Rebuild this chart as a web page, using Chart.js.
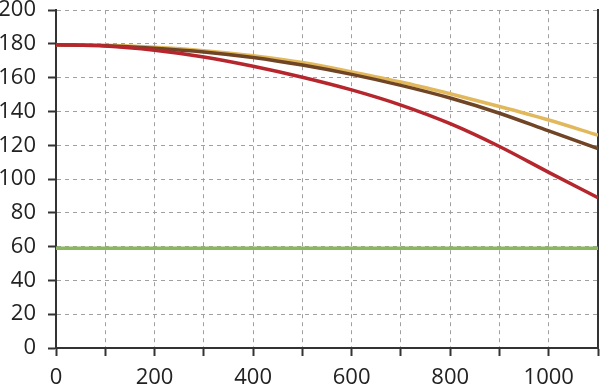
<!DOCTYPE html>
<html>
<head>
<meta charset="utf-8">
<script src="https://cdn.jsdelivr.net/npm/chart.js@4/dist/chart.umd.min.js"></script>
<style>
  html, body { margin: 0; padding: 0; background: #fff; }
  #wrap { position: relative; width: 600px; height: 387px; overflow: hidden; }
  #chart { position: absolute; left: 0; top: -15px; }
</style>
</head>
<body>
<div id="wrap"><canvas id="chart" width="600" height="402"></canvas></div>
<script>
// distance values (x)
const distances = [0, 100, 200, 300, 400, 500, 600, 700, 800, 900, 1000, 1100];

// series
const redSeries   = [179.5, 178.8, 176.3, 172.3, 166.8, 160.3, 152.8, 143.8, 132.8, 119.3, 104, 89];
const brownSeries = [179.5, 179, 177.5, 175.3, 172, 167.5, 162, 155.5, 148, 139, 128.5, 118];
const goldSeries  = [179.5, 179.2, 178, 176, 173, 169, 163.5, 157.5, 150.5, 143, 135, 126];
const greenSeries = [59, 59, 59, 59, 59, 59, 59, 59, 59, 59, 59, 59];

const xMin = 0, xMax = 1100;
const yMin = 0, yMax = 200;

function toPoints(values) {
    return distances.map((x, i) => ({ x: x, y: values[i] }));
}

const line = (data, color) => ({
    data: toPoints(data),
    borderColor: color,
    borderWidth: 3.5,
    pointRadius: 0,
    cubicInterpolationMode: "monotone",
    fill: false,
});

const ctx = document.getElementById("chart").getContext("2d");

new Chart(ctx, {
    type: "line",
    data: {
        datasets: [
            line(greenSeries, "#8ab85e"),
            line(redSeries, "#b5272d"),
            line(brownSeries, "#6f4526"),
            line(goldSeries, "#e2b85c"),
        ],
    },
    options: {
        responsive: false,
        animation: false,
        layout: { padding: { top: 0, right: 2, left: 0, bottom: 0 } },
        plugins: { legend: { display: false }, tooltip: { enabled: false } },
        scales: {
            x: {
                type: "linear",
                min: xMin,
                max: xMax,
                afterFit: s => { s.height = 39; s.paddingRight = 0; s.paddingLeft = 0; },
                border: { color: "#333", width: 2, dash: [4, 4] },
                grid: {
                    color: "#a0a0a0",
                    lineWidth: 1,
                    tickLength: 8,
                    tickColor: "#333",
                    tickWidth: 2,
                    tickBorderDash: [],
                },
                ticks: {
                    stepSize: 100,
                    color: "#222",
                    font: { family: "Open Sans", size: 22 },
                    padding: 9,
                    maxRotation: 0,
                    autoSkip: false,
                    callback: v => (v % 200 === 0 ? String(v) : ""),
                },
            },
            y: {
                min: yMin,
                max: yMax,
                afterFit: s => { s.width = 56; },
                border: { color: "#333", width: 2, dash: [4, 4] },
                grid: {
                    color: "#a0a0a0",
                    lineWidth: 1,
                    tickLength: 8,
                    tickColor: "#333",
                    tickWidth: 2,
                    tickBorderDash: [],
                },
                ticks: {
                    stepSize: 20,
                    color: "#222",
                    font: { family: "Open Sans", size: 22 },
                    padding: 12,
                },
            },
            yRight: {
                position: "right",
                min: yMin,
                max: yMax,
                afterFit: s => { s.width = 0; },
                border: { color: "#333", width: 2 },
                grid: { display: false, drawTicks: false },
                ticks: { display: false },
            },
        },
    },
});
</script>
</body>
</html>
